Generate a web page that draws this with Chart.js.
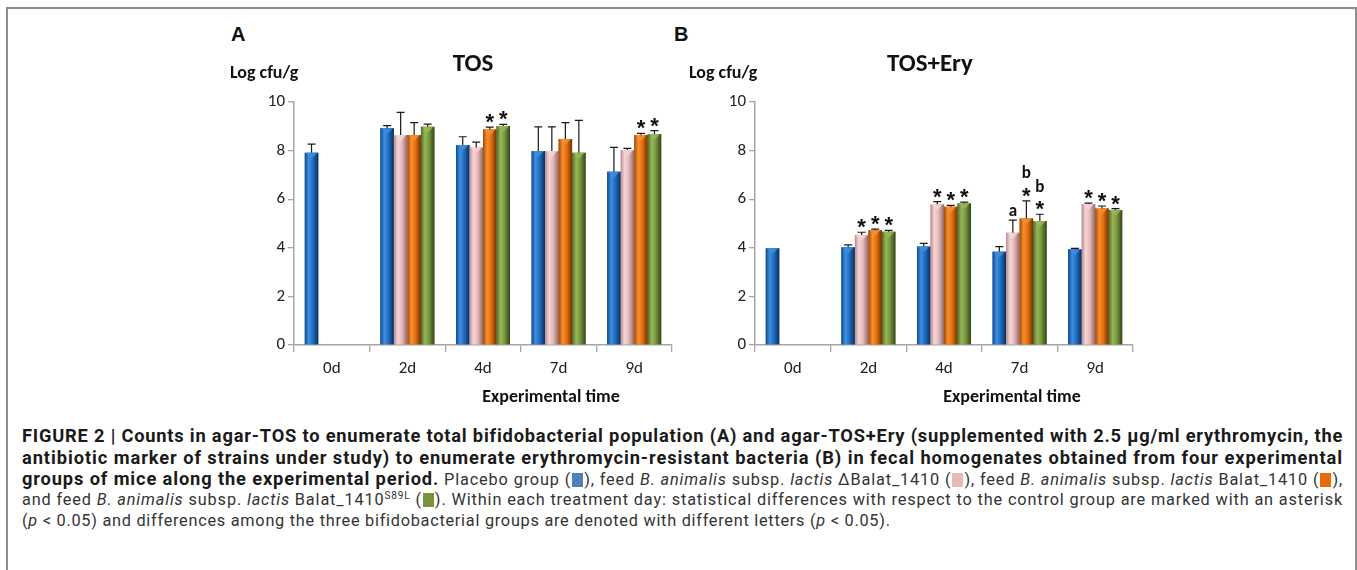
<!DOCTYPE html>
<html>
<head>
<meta charset="utf-8">
<script src="https://cdn.jsdelivr.net/npm/chart.js@4.4.0/dist/chart.umd.min.js"></script>
<style>
  body { margin: 0; width: 1357px; height: 570px; background: #fff; position: relative; overflow: hidden; font-family: Carlito, Lato, sans-serif; color: #111; }
  .frame { position: absolute; left: 6px; top: 7px; width: 1351px; height: 620px; box-sizing: border-box; border: 2px solid #8c8c8c; border-bottom: none; }
  canvas { position: absolute; }
  .lbl { position: absolute; font-weight: bold; white-space: nowrap; transform: translate(-50%, -50%); }
  .panel { font-family: "Liberation Sans", Arial, sans-serif; font-size: 20px; transform: translate(0, -50%); }
  .ttl { font-size: 25px; }
  .unit { font-size: 18px; transform: translate(0, -50%); }
  .xt { font-size: 18px; }
  .cap { position: absolute; left: 22px; width: 1321px; font-family: Roboto, "Liberation Sans", sans-serif; font-size: 16.3px; line-height: 21px; white-space: nowrap; color: #333; }
  .cap span.in { display: inline-block; }
  .cap b { color: #1a1a1a; font-size: 18.3px; }
  .sw { display: inline-block; width: 11px; height: 14px; vertical-align: -2px; margin: 0 1px; }
  sup { font-size: 10px; line-height: 0; }
</style>
</head>
<body>
<div class="frame"></div>

<canvas id="chartA" width="450" height="350" style="left:230px; top:60px;"></canvas>
<canvas id="chartB" width="450" height="350" style="left:691px; top:60px;"></canvas>

<div class="lbl panel" style="left:231px; top:34px;">A</div>
<div class="lbl ttl" style="left:473px; top:62px;">TOS</div>
<div class="lbl unit" style="left:230px; top:72px;">Log cfu/g</div>
<div class="lbl xt" style="left:551px; top:396px;">Experimental time</div>

<div class="lbl panel" style="left:674px; top:34px;">B</div>
<div class="lbl ttl" style="left:930px; top:62px;">TOS+Ery</div>
<div class="lbl unit" style="left:689px; top:72px;">Log cfu/g</div>
<div class="lbl xt" style="left:1012px; top:396px;">Experimental time</div>

<div class="cap fit" data-w="1321" style="top:425px;"><span class="in"><b>FIGURE 2 | Counts in agar-TOS to enumerate total bifidobacterial population (A) and agar-TOS+Ery (supplemented with 2.5 µg/ml erythromycin, the</b></span></div>
<div class="cap fit" data-w="1321" style="top:447px;"><span class="in"><b>antibiotic marker of strains under study) to enumerate erythromycin-resistant bacteria (B) in fecal homogenates obtained from four experimental</b></span></div>
<div class="cap fit" data-w="1321" style="top:468px;"><span class="in"><b>groups of mice along the experimental period.</b> Placebo group (<span class="sw" style="background:#4f81bd"></span>), feed <i>B. animalis</i> subsp. <i>lactis</i> ΔBalat_1410 (<span class="sw" style="background:#e6b9b8"></span>), feed <i>B. animalis</i> subsp. <i>lactis</i> Balat_1410 (<span class="sw" style="background:#e46c0a"></span>),</span></div>
<div class="cap fit" data-w="1321" style="top:489px;"><span class="in">and feed <i>B. animalis</i> subsp. <i>lactis</i> Balat_1410<sup>S89L</sup> (<span class="sw" style="background:#77933c"></span>). Within each treatment day: statistical differences with respect to the control group are marked with an asterisk</span></div>
<div class="cap fit" data-w="868" style="top:510px;"><span class="in">(<i>p</i> &lt; 0.05) and differences among the three bifidobacterial groups are denoted with different letters (<i>p</i> &lt; 0.05).</span></div>

<script>
// categories and axis ticks
const days = ["0d", "2d", "4d", "7d", "9d"];
const yTicks = [0, 2, 4, 6, 8, 10];
const seriesNames = ["Placebo", "ΔBalat_1410", "Balat_1410", "Balat_1410 S89L"];

// Panel A: agar-TOS (mean log cfu/g and upper SD)
const placeboA = [7.91, 8.92, 8.23, 7.98, 7.13];
const placeboA_sd = [0.36, 0.11, 0.34, 1.00, 1.00];
const deltaA = [null, 8.64, 8.13, 7.98, 8.02];
const deltaA_sd = [null, 0.93, 0.22, 1.00, 0.07];
const balatA = [null, 8.64, 8.87, 8.48, 8.64];
const balatA_sd = [null, 0.51, 0.10, 0.67, 0.07];
const s89lA = [null, 8.98, 9.01, 7.91, 8.68];
const s89lA_sd = [null, 0.11, 0.07, 1.33, 0.14];

// Panel B: agar-TOS+Ery
const placeboB = [3.98, 4.02, 4.05, 3.84, 3.94];
const placeboB_sd = [0, 0.10, 0.13, 0.21, 0.04];
const deltaB = [null, 4.53, 5.79, 4.62, 5.80];
const deltaB_sd = [null, 0.11, 0.11, 0.52, 0.04];
const balatB = [null, 4.73, 5.69, 5.21, 5.62];
const balatB_sd = [null, 0.04, 0.06, 0.72, 0.10];
const s89lB = [null, 4.66, 5.83, 5.10, 5.56];
const s89lB_sd = [null, 0.06, 0.05, 0.28, 0.05];

// significance marks above each bar (top to bottom)
const none = [[], [], [], [], []];
const balatA_marks = [[], [], ["*"], [], ["*"]];
const s89lA_marks = [[], [], ["*"], [], ["*"]];
const deltaB_marks = [[], ["*"], ["*"], ["a"], ["*"]];
const balatB_marks = [[], ["*"], ["*"], ["b", "*"], ["*"]];
const s89lB_marks = [[], ["*"], ["*"], ["b", "*"], ["*"]];

// bar colours: [edge, highlight, body, dark edge]
const shades = [
    ["#0f4a8c", "#3f8ee0", "#1f6cc0", "#0b2f5c"],
    ["#b88c8e", "#f6d6d6", "#e6b8b9", "#8e6a6b"],
    ["#a04a06", "#f78f30", "#e56e0c", "#6e3304"],
    ["#4f6826", "#98b85a", "#77983a", "#33441a"]
];
const FONT = "Carlito, Lato, sans-serif";

// draws the cylinder shading, error bars and the asterisk/letter marks
const barDecor = {
    id: "barDecor",
    afterDatasetsDraw(chart) {
        const ctx = chart.ctx;
        const y = chart.scales.y;
        chart.data.datasets.forEach((ds, di) => {
            const meta = chart.getDatasetMeta(di);
            const sh = shades[di];
            meta.data.forEach((bar, i) => {
                const v = ds.data[i];
                if (v == null) return;
                const left = bar.x - bar.width / 2;
                const w = bar.width;
                ctx.save();
                const g = ctx.createLinearGradient(left, 0, left + w, 0);
                g.addColorStop(0, sh[0]);
                g.addColorStop(0.3, sh[1]);
                g.addColorStop(0.6, sh[2]);
                g.addColorStop(1, sh[3]);
                ctx.fillStyle = g;
                ctx.fillRect(left, bar.y, w, bar.base - bar.y);
                // lighter pyramid tip on the top face
                ctx.fillStyle = sh[1];
                ctx.globalAlpha = 0.8;
                ctx.beginPath();
                ctx.moveTo(left + 1, bar.y);
                ctx.lineTo(left + w - 1, bar.y);
                ctx.lineTo(bar.x, bar.y + 6);
                ctx.closePath();
                ctx.fill();
                ctx.restore();

                let top = bar.y;
                const sd = ds.sd[i];
                if (sd > 0) {
                    top = y.getPixelForValue(v + sd);
                    ctx.save();
                    ctx.strokeStyle = "#1a1a1a";
                    ctx.lineWidth = 1.2;
                    ctx.beginPath();
                    ctx.moveTo(bar.x, bar.y);
                    ctx.lineTo(bar.x, top);
                    ctx.moveTo(bar.x - 4, top);
                    ctx.lineTo(bar.x + 4, top);
                    ctx.stroke();
                    ctx.restore();
                }

                const marks = ds.marks[i];
                if (marks.length) {
                    ctx.save();
                    ctx.fillStyle = "#111";
                    ctx.textAlign = "center";
                    ctx.textBaseline = "alphabetic";
                    let base = top;
                    for (let k = marks.length - 1; k >= 0; k--) {
                        const m = marks[k];
                        if (m === "*") {
                            ctx.font = "bold 22px 'Liberation Sans', Arial, sans-serif";
                            ctx.fillText(m, bar.x, base + 2);
                            base -= 18.5;
                        } else {
                            ctx.font = "bold 17px " + FONT;
                            ctx.fillText(m, bar.x, base - 4);
                            base -= 18;
                        }
                    }
                    ctx.restore();
                }
            });
        });
    }
};

function makeChart(id, values, sds, marks) {
    new Chart(document.getElementById(id), {
        type: "bar",
        data: {
            labels: days,
            datasets: values.map((vals, di) => ({
                label: seriesNames[di],
                data: vals,
                sd: sds[di],
                marks: marks[di],
                backgroundColor: shades[di][2],
                borderWidth: 0,
                categoryPercentage: 0.715,
                barPercentage: 1.0
            }))
        },
        options: {
            responsive: false,
            animation: false,
            layout: { padding: { left: 0, right: 8, top: 42, bottom: 0 } },
            plugins: { legend: { display: false }, title: { display: false }, tooltip: { enabled: false } },
            scales: {
                x: {
                    grid: { offset: true, drawOnChartArea: false, tickLength: 7, color: "#a6a6a6", lineWidth: 1.3 },
                    border: { color: "#a6a6a6", width: 1.5 },
                    ticks: { color: "#222", font: { family: FONT, size: 17 }, padding: 7 },
                    afterFit: (s) => { s.height = 65; }
                },
                y: {
                    min: 0,
                    max: 10,
                    afterBuildTicks: (s) => { s.ticks = yTicks.map(v => ({ value: v })); },
                    grid: { drawOnChartArea: false, tickLength: 6, color: "#a6a6a6", lineWidth: 1.3 },
                    border: { color: "#a6a6a6", width: 1.5 },
                    ticks: { color: "#222", font: { family: FONT, size: 17 }, padding: 3 },
                    afterFit: (s) => { s.width = 64; }
                }
            }
        },
        plugins: [barDecor]
    });
}

makeChart("chartA",
    [placeboA, deltaA, balatA, s89lA],
    [placeboA_sd, deltaA_sd, balatA_sd, s89lA_sd],
    [none, none, balatA_marks, s89lA_marks]);
makeChart("chartB",
    [placeboB, deltaB, balatB, s89lB],
    [placeboB_sd, deltaB_sd, balatB_sd, s89lB_sd],
    [none, deltaB_marks, balatB_marks, s89lB_marks]);

// stretch each caption line to the width it has in the original
document.querySelectorAll(".cap.fit").forEach((line) => {
    const el = line.querySelector("span.in");
    const n = el.textContent.length;
    const extra = Number(line.dataset.w) - el.getBoundingClientRect().width;
    el.style.letterSpacing = (extra / n).toFixed(3) + "px";
});
</script>
</body>
</html>
